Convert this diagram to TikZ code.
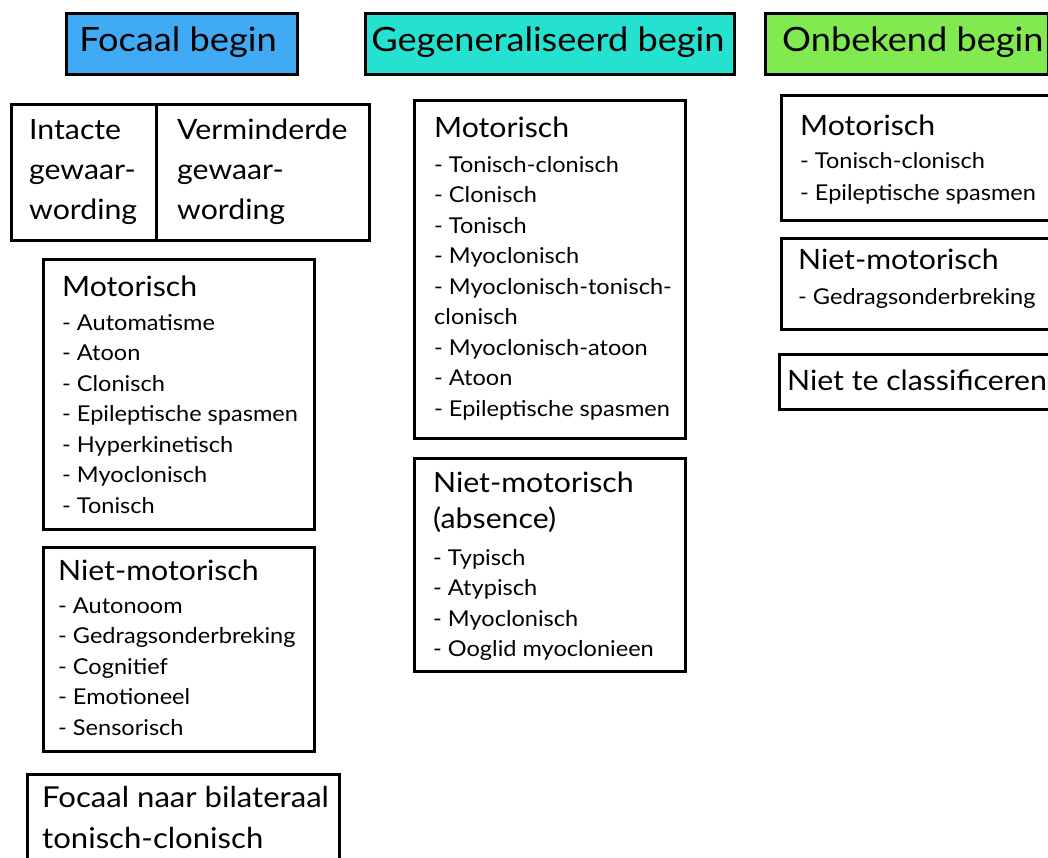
\documentclass[tikz,border=0pt]{standalone}
\usepackage{fontspec}
\setmainfont[FakeStretch=1.08]{Lato}
\definecolor{focblue}{RGB}{64,170,245}
\definecolor{genturq}{RGB}{37,226,208}
\definecolor{onbgreen}{RGB}{128,234,80}
\newcommand{\lines}[1]{\begin{tabular}[t]{@{}l@{}}#1\end{tabular}}
\begin{document}
\begin{tikzpicture}[x=1pt,y=-1pt,
  box/.style={draw=black, line width=3pt, inner sep=0pt, anchor=north west, rectangle},
  hdr/.style={font=\fontsize{33.5}{40}\selectfont, inner sep=0pt, anchor=base},
  hdrw/.style={font=\fontsize{33.5}{40}\selectfont, inner sep=0pt, anchor=base west},
  ttl/.style={font=\fontsize{28}{36}\selectfont, inner sep=0pt, anchor=base west},
  aw/.style={font=\fontsize{28}{40}\selectfont, inner sep=0pt, anchor=base west},
  bt/.style={font=\fontsize{28.8}{41}\selectfont, inner sep=0pt, anchor=base west},
  itm/.style={font=\fontsize{21.8}{30.5}\selectfont, inner sep=0pt, anchor=base west},
  itmw/.style={font=\fontsize{21.8}{32}\selectfont, inner sep=0pt, anchor=base west}]
\useasboundingbox (0,0) rectangle (1048,857);
\clip (0,0) rectangle (1048,857);
\fill[white] (0,0) rectangle (1048,857);

% header boxes
\node[box, fill=focblue, minimum width=231pt, minimum height=61pt] (fb) at (65,12) {};
\node[box, fill=genturq, minimum width=369pt, minimum height=61pt] (gb) at (364,12) {};
\node[box, fill=onbgreen, minimum width=283pt, minimum height=61pt] (ob) at (764,12) {};
\node[hdr] (fbt) at (178,51) {Focaal begin};
\node[hdr] (gbt) at (548,51) {Gegeneraliseerd begin};
\node[hdrw] (obt) at (782,51) {Onbekend begin};

% Focaal column
\node[box, minimum width=145pt, minimum height=136pt] (awl) at (10,103) {};
\node[box, minimum width=213pt, minimum height=136pt] (awr) at (155,103) {};
\node[aw] (awlt) at (29,139) {\lines{Intacte\\gewaar-\\wording}};
\node[aw] (awrt) at (177,139) {\lines{Verminderde\\gewaar-\\wording}};

\node[box, minimum width=271pt, minimum height=270pt] (fm) at (42,258) {};
\node[ttl] (fmh) at (62,296) {Motorisch};
\node[itm] (fmi) at (62,330) {\lines{- Automatisme\\- Atoon\\- Clonisch\\- Epileptische spasmen\\- Hyperkinetisch\\- Myoclonisch\\- Tonisch}};

\node[box, minimum width=271pt, minimum height=204pt] (fn) at (42,546) {};
\node[ttl] (fnh) at (58,580) {Niet-motorisch};
\node[itm] (fni) at (58,613) {\lines{- Autonoom\\- Gedragsonderbreking\\- Cognitief\\- Emotioneel\\- Sensorisch}};

\node[box, minimum width=312pt, minimum height=100pt] (fbl) at (26,773) {};
\node[bt] (fblt) at (42,807) {\lines{Focaal naar bilateraal\\tonisch-clonisch}};

% Gegeneraliseerd column
\node[box, minimum width=271pt, minimum height=338pt] (gm) at (413,99) {};
\node[ttl] (gmh) at (434,137) {Motorisch};
\node[itm] (gmi) at (434,172) {\lines{- Tonisch-clonisch\\- Clonisch\\- Tonisch\\- Myoclonisch\\- Myoclonisch-tonisch-\\clonisch\\- Myoclonisch-atoon\\- Atoon\\- Epileptische spasmen}};

\node[box, minimum width=271pt, minimum height=213pt] (gn) at (413,457) {};
\node[ttl] (gnh) at (433,492) {\lines{Niet-motorisch\\(absence)}};
\node[itm] (gni) at (433,565) {\lines{- Typisch\\- Atypisch\\- Myoclonisch\\- Ooglid myoclonieen}};

% Onbekend column
\node[box, minimum width=290pt, minimum height=125pt] (om) at (780,94) {};
\node[ttl] (omh) at (800,135) {Motorisch};
\node[itmw] (omi) at (800,168) {\lines{- Tonisch-clonisch\\- Epileptische spasmen}};

\node[box, minimum width=290pt, minimum height=91pt] (on) at (780,237) {};
\node[ttl] (onh) at (798,269) {Niet-motorisch};
\node[itm] (oni) at (798,304) {- Gedragsonderbreking};

\node[box, minimum width=290pt, minimum height=55pt] (onc) at (778,353) {};
\node[ttl] (onct) at (787,390) {Niet te classificeren};
\end{tikzpicture}
\end{document}
